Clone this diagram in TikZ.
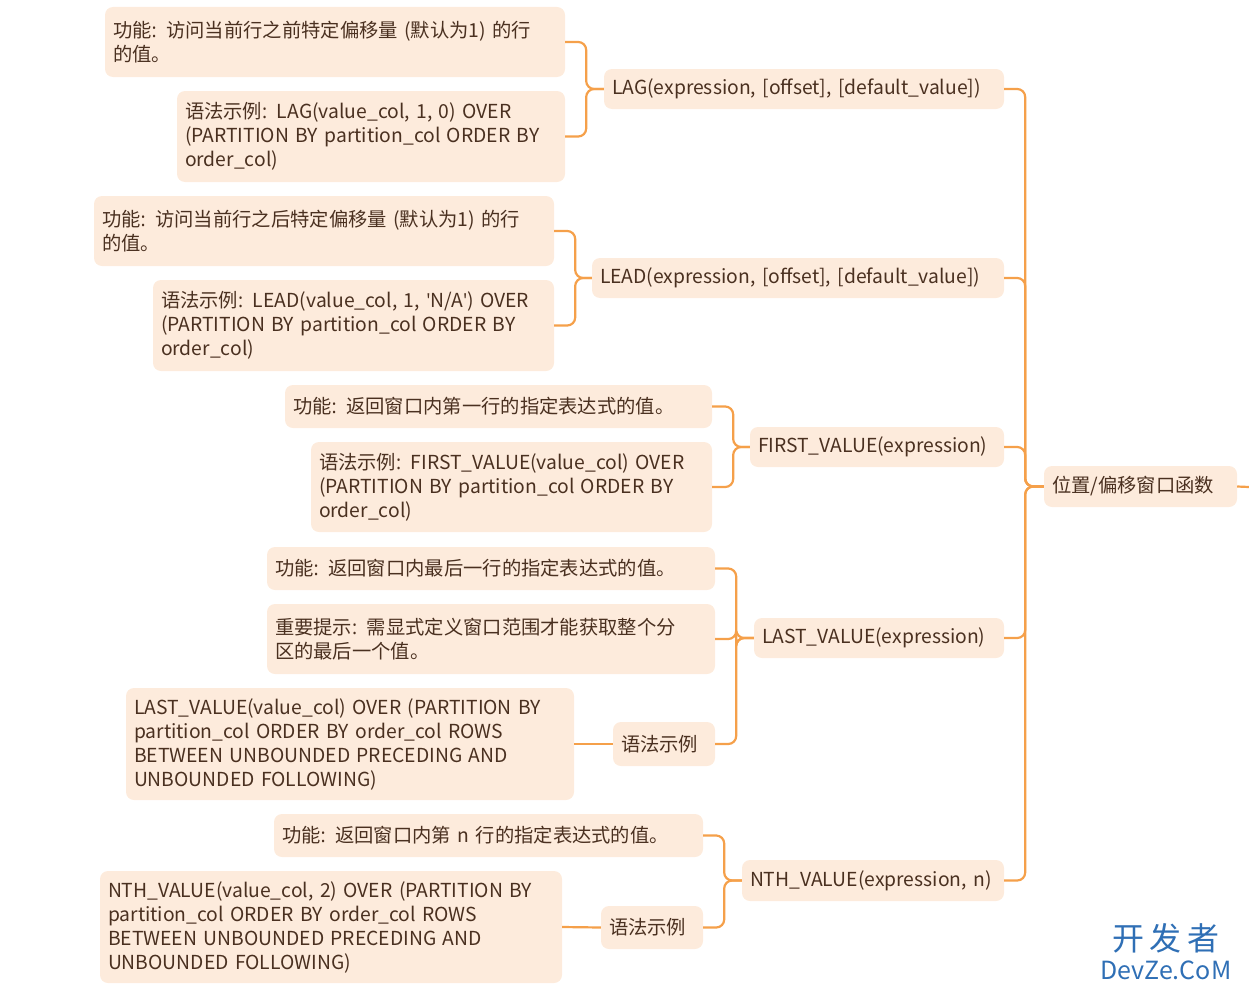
\documentclass[tikz,border=0pt]{standalone}
\usepackage{fontspec}
\setmainfont{Noto Sans CJK SC}
\newfontfamily\lat{Open Sans}
\newcommand{\q}{{\lat\symbol{39}}}
\newcommand{\cl}{{\lat:}}
\definecolor{boxfill}{HTML}{FDEBDC}
\definecolor{txt}{HTML}{4A3020}
\definecolor{ln}{HTML}{F5A04A}
\definecolor{wm}{HTML}{2F6FB5}
\begin{document}
\begin{tikzpicture}[x=1pt,y=-1pt,
 box/.style={fill=boxfill,rounded corners=8pt,text=txt,inner sep=0pt,font=\fontsize{19.3}{24}\selectfont,align=left},
 conn/.style={draw=ln,line width=2.2pt,rounded corners=8pt}]
\useasboundingbox (0,0) rectangle (1249,990);
\newcommand{\bx}[6]{\node[box,minimum width=#4-#2,minimum height=#5-#3,text width=#4-#2-16] (#1) at ({(#2+#4)/2},{(#3+#5)/2}) {#6};}
\bx{la}{105}{7}{565}{77}{功能\cl{} 访问当前行之前特定偏移量 (默认为1) 的行\\的值。}
\bx{lb}{177}{91}{565}{182}{语法示例\cl{} LAG(value\_col, 1, 0) OVER\\(PARTITION BY partition\_col ORDER BY\\order\_col)}
\bx{lag}{604}{69}{1004}{109}{LAG(expression, [offset], [default\_value])}
\bx{da}{94}{196}{554}{266}{功能\cl{} 访问当前行之后特定偏移量 (默认为1) 的行\\的值。}
\bx{db}{153}{280}{554}{371}{语法示例\cl{} LEAD(value\_col, 1, \q N/A\q) OVER\\(PARTITION BY partition\_col ORDER BY\\order\_col)}
\bx{lead}{592}{258}{1004}{298}{LEAD(expression, [offset], [default\_value])}
\bx{fa}{285}{385}{712}{428}{功能\cl{} 返回窗口内第一行的指定表达式的值。}
\bx{fb}{311}{442}{712}{532}{语法示例\cl{} FIRST\_VALUE(value\_col) OVER\\(PARTITION BY partition\_col ORDER BY\\order\_col)}
\bx{first}{750}{427}{1004}{467}{FIRST\_VALUE(expression)}
\bx{sa}{267}{547}{715}{590}{功能\cl{} 返回窗口内最后一行的指定表达式的值。}
\bx{sb}{267}{604}{715}{674}{重要提示\cl{} 需显式定义窗口范围才能获取整个分\\区的最后一个值。}
\bx{st}{126}{688}{574}{800}{LAST\_VALUE(value\_col) OVER (PARTITION BY\\partition\_col ORDER BY order\_col ROWS\\BETWEEN UNBOUNDED PRECEDING AND\\UNBOUNDED FOLLOWING)}
\bx{sx}{613}{722}{715}{766}{语法示例}
\bx{last}{754}{618}{1004}{658}{LAST\_VALUE(expression)}
\bx{na}{274}{814}{703}{857}{功能\cl{} 返回窗口内第 n 行的指定表达式的值。}
\bx{nt}{100}{871}{562}{983}{NTH\_VALUE(value\_col, 2) OVER (PARTITION BY\\partition\_col ORDER BY order\_col ROWS\\BETWEEN UNBOUNDED PRECEDING AND\\UNBOUNDED FOLLOWING)}
\bx{nx}{601}{906}{703}{949}{语法示例}
\bx{nth}{742}{860}{1004}{901}{NTH\_VALUE(expression, n)}
\bx{root}{1044}{466}{1237}{507}{位置/偏移窗口函数}
\coordinate (rend) at (1249,487);
\foreach \c/\p in {la/lag,lb/lag,da/lead,db/lead,fa/first,fb/first,sa/last,sb/last,sx/last,na/nth,nx/nth}
  \draw[conn] (\c.east) -- ++(21,0) |- (\p.west);
\foreach \c in {lag,lead,first,last,nth}
  \draw[conn] (\c.east) -- ++(21,0) |- (root.west);
\draw[conn] (st.east) -- (sx.west);
\draw[conn] (nt.east) -- (nx.west);
\draw[conn] (root.east) -- (rend);
\node[text=wm,font=\fontsize{32}{32}\selectfont,inner sep=0pt] (wm1) at (1166,938) {开\,发\,者};
\node[text=wm,font=\fontsize{25}{25}\selectfont,inner sep=0pt] (wm2) at (1166,970) {DevZe.CoM};
\end{tikzpicture}
\end{document}
